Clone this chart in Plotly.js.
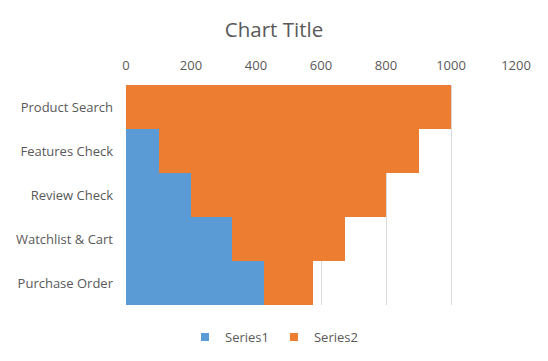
<!DOCTYPE html>
<html><head><meta charset="utf-8">
<script src="https://cdn.plot.ly/plotly-3.0.1.min.js"></script>
<style>html,body{margin:0;padding:0;background:#fff}</style>
</head><body>
<div id="chart" style="width:548px;height:361px"></div>
<script>
var categories = ["Product Search", "Features Check", "Review Check", "Watchlist & Cart", "Purchase Order"];
var seriesNames = ["Series1", "Series2"];
var series1 = [0, 100, 200, 325, 425];
var series2 = [1000, 800, 600, 350, 150];
var xTicks = [0, 200, 400, 600, 800, 1000, 1200];
var colors = ['#5B9BD5', '#ED7D31'];

var fontFam = "'Open Sans', 'Noto Sans', sans-serif";
var data = [
  {type: 'bar', orientation: 'h', name: seriesNames[0], y: categories, x: series1,
   marker: {color: colors[0]}, showlegend: false, legendgroup: 's1'},
  {type: 'bar', orientation: 'h', name: seriesNames[1], y: categories, x: series2,
   marker: {color: colors[1]}, showlegend: false, legendgroup: 's2'},
  {type: 'scatter', mode: 'markers', name: seriesNames[0], x: [null], y: [null],
   marker: {color: colors[0], symbol: 'square', size: 8}, legendgroup: 's1'},
  {type: 'scatter', mode: 'markers', name: seriesNames[1], x: [null], y: [null],
   marker: {color: colors[1], symbol: 'square', size: 8}, legendgroup: 's2'}
];
var layout = {
  width: 548, height: 361,
  margin: {l: 126, r: 32, t: 85, b: 56},
  paper_bgcolor: '#fff', plot_bgcolor: '#fff',
  barmode: 'stack', bargap: 0,
  font: {family: fontFam, color: '#595959', size: 13},
  title: {text: 'Chart Title', font: {size: 20.5, color: '#595959', family: fontFam},
          xref: 'container', x: 0.5, xanchor: 'center', yref: 'container', y: 0.917, yanchor: 'middle'},
  xaxis: {side: 'top', range: [0, 1200], tickvals: xTicks, ticktext: xTicks.map(String),
          showgrid: true, gridcolor: '#D9D9D9', gridwidth: 1, zeroline: false, showline: false,
          ticks: '', ticklabelstandoff: 11, fixedrange: true, tickfont: {size: 13}},
  yaxis: {autorange: 'reversed', showgrid: false, zeroline: false, showline: false,
          ticks: '', ticklabelstandoff: 12, fixedrange: true, tickfont: {size: 13}},
  showlegend: true,
  legend: {orientation: 'h', xref: 'container', x: 0.5, xanchor: 'center',
           yref: 'container', y: 0.066, yanchor: 'middle', traceorder: 'normal',
           font: {size: 13, color: '#595959'}, itemwidth: 30}
};
Plotly.newPlot('chart', data, layout, {displayModeBar: false, staticPlot: true});
</script>
</body></html>
